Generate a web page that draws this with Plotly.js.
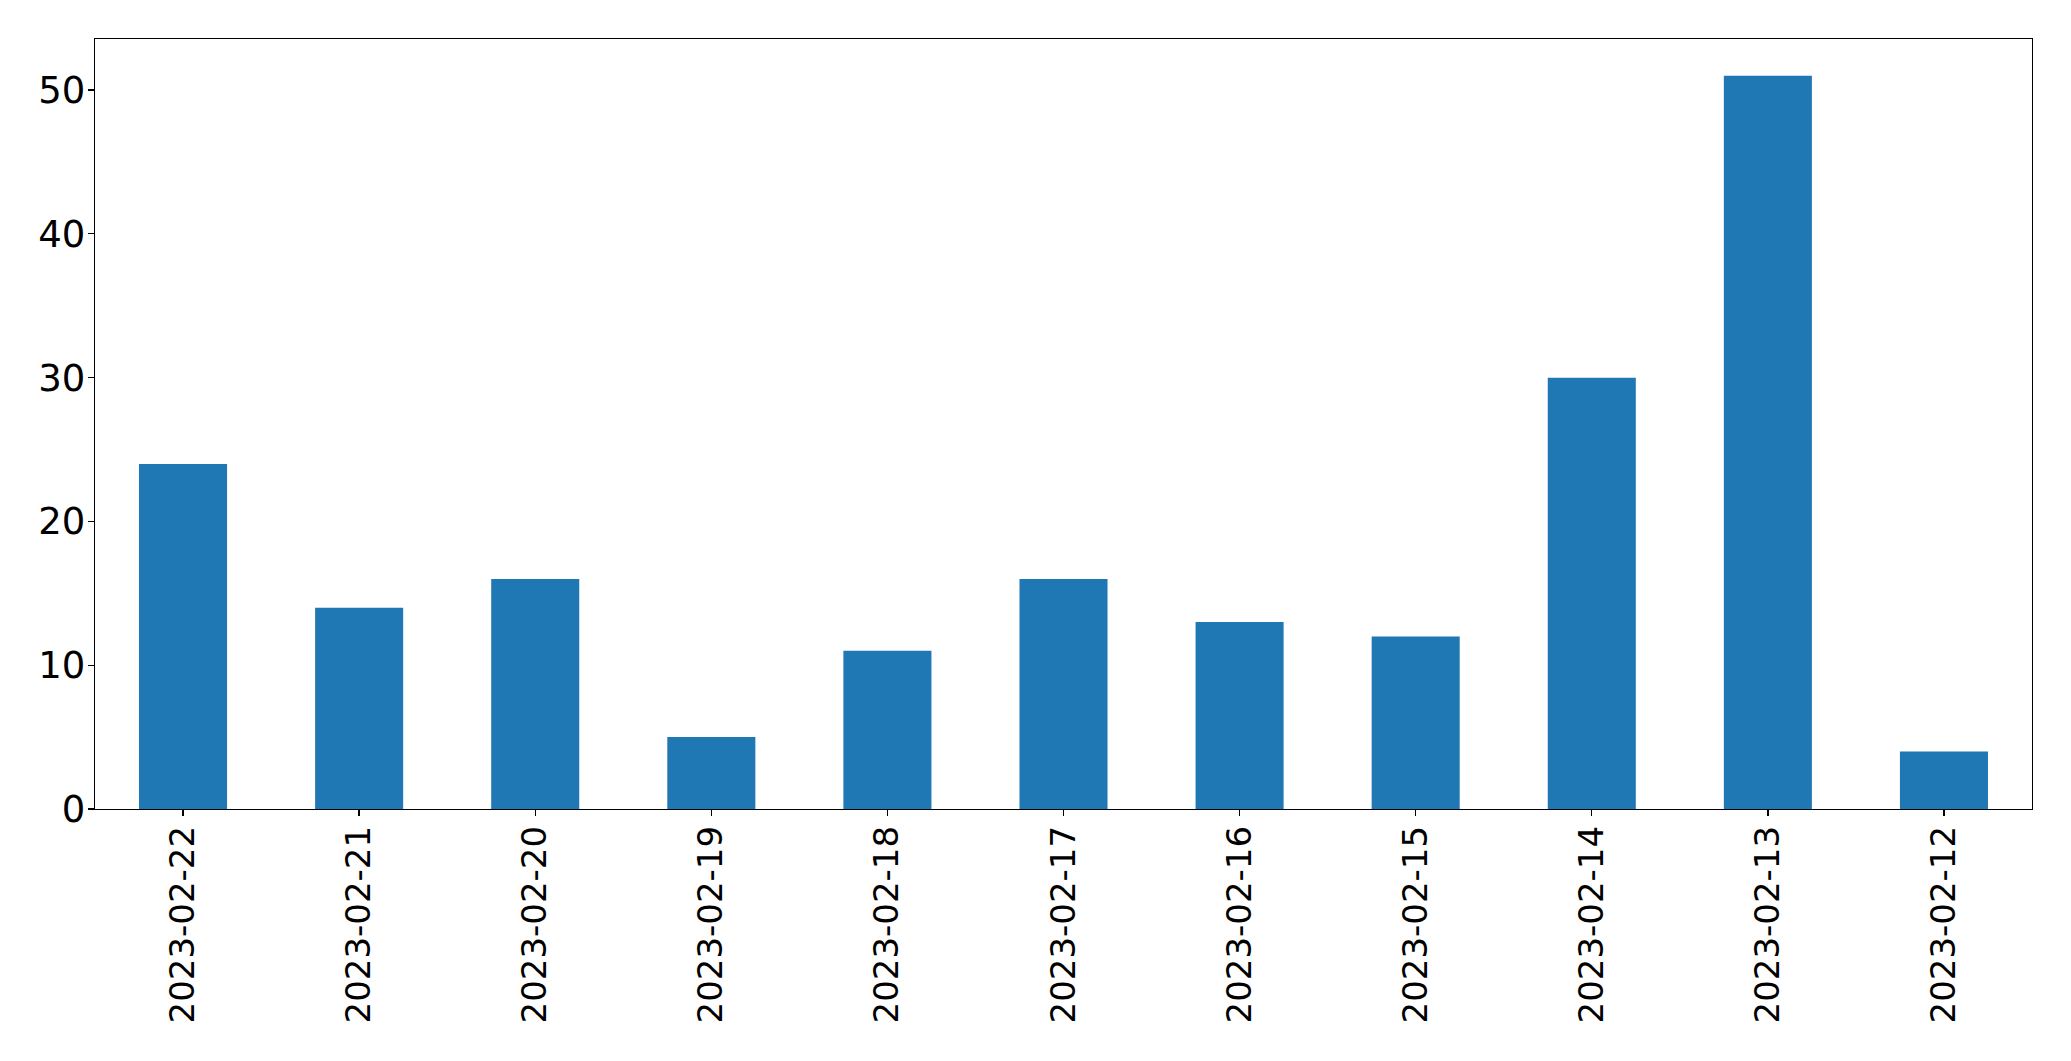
<!DOCTYPE html>
<html>
<head>
<meta charset="utf-8">
<script src="https://cdn.plot.ly/plotly-3.0.1.min.js"></script>
<style>html,body{margin:0;padding:0;background:#fff;}#chart{width:2071px;height:1061px;}</style>
</head>
<body>
<div id="chart"></div>
<script>
const dates = ["2023-02-22","2023-02-21","2023-02-20","2023-02-19","2023-02-18","2023-02-17","2023-02-16","2023-02-15","2023-02-14","2023-02-13","2023-02-12"];
const counts = [24, 14, 16, 5, 11, 16, 13, 12, 30, 51, 4];
const yTicks = [0, 10, 20, 30, 40, 50];

const trace = {
  type: "bar",
  x: dates,
  y: counts,
  marker: {color: "#1f77b4", line: {width: 0}},
  hoverinfo: "x+y"
};

const axisCommon = {
  showline: true,
  linecolor: "#000",
  linewidth: 1.3,
  mirror: true,
  showgrid: false,
  zeroline: false,
  ticks: "outside",
  ticklen: 6,
  tickwidth: 1.3,
  tickcolor: "#000"
};

const layout = {
  width: 2071,
  height: 1061,
  margin: {l: 95, r: 39, t: 39, b: 252, pad: 0},
  paper_bgcolor: "#fff",
  plot_bgcolor: "#fff",
  showlegend: false,
  bargap: 0.5,
  xaxis: Object.assign({}, axisCommon, {
    type: "category",
    range: [-0.5, 10.5],
    tickangle: -90,
    ticklabelstandoff: -4,
    tickfont: {family: "DejaVu Sans", size: 34, color: "#000"}
  }),
  yaxis: Object.assign({}, axisCommon, {
    range: [0, 53.55],
    tickvals: yTicks,
    ticktext: yTicks.map(String),
    ticklabelstandoff: -5,
    tickfont: {family: "DejaVu Sans", size: 37, color: "#000"}
  })
};

Plotly.newPlot("chart", [trace], layout, {displayModeBar: false, staticPlot: true});
</script>
</body>
</html>
